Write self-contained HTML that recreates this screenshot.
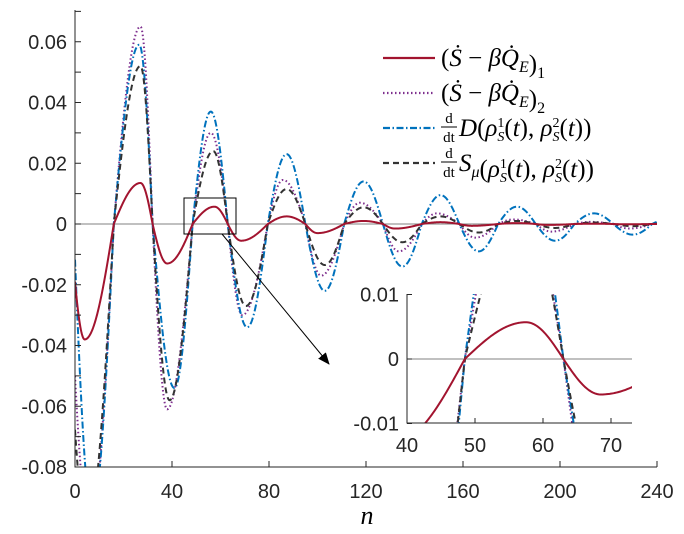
<!DOCTYPE html>
<html><head><meta charset="utf-8"><style>
html,body{margin:0;background:#fff;overflow:hidden;width:684px;height:534px;}
svg{display:block;font-family:"Liberation Sans",sans-serif;}
.s{font-family:"Liberation Serif",serif;}
</style></head><body>
<svg id="c" width="684" height="534" viewBox="0 0 684 534" xmlns="http://www.w3.org/2000/svg">
<defs>
<clipPath id="mc"><rect x="75" y="10" width="582" height="457"/></clipPath>
<clipPath id="ic"><rect x="407" y="294" width="225" height="129"/></clipPath>
<marker id="ah" markerWidth="12" markerHeight="10" refX="11" refY="5" orient="auto" markerUnits="userSpaceOnUse"><path d="M0,0 L12,5 L0,10 z" fill="#000"/></marker>
</defs>
<g id="main"></g>
<g id="ins"></g>
</svg>
<script>
const Z=[16,32,48.5,63,79.5,95,111,127,143,158.5,174.5,190,206,222,238,254];
function mk(first,amps,pk){
  const L=[first];
  for(let i=0;i<amps.length;i++){const a=Z[i],b=Z[i+1];L.push([a,b,pk(i,a,b),amps[i]]);}
  return L;
}
const mid=(i,a,b)=>(a+b)/2;
const R=mk([-2,16,4,-0.038],[.0135,-.013,.0057,-.0055,.0025,-.003,.001,-.0015,.0006,-.0006,.0003,-.0003,.0001,-.0001,0],
 (i,a,b)=>[27,38,57.5,68.5][i]!==undefined?[27,38,57.5,68.5][i]:(i%2?mid(i,a,b)-3:mid(i,a,b)));
const B=mk([-0.6,16,7,-0.095],[.059,-.054,.037,-.034,.023,-.022,.014,-.014,.0095,-.009,.0057,-.0055,.0035,-.0035,.002],
 (i,a,b)=>[26.5,41,56,71][i]||mid(i,a,b));
const P=mk([-3,16,6,-0.1],[.065,-.061,.030,-.030,.0145,-.017,.007,-.009,.0035,-.0045,.0015,-.0025,.0007,-.0015,.0005],
 (i,a,b)=>[27,38,56,69][i]||mid(i,a,b)-1.5);
const K=mk([-4.5,16,5,-0.1],[.052,-.058,.024,-.027,.0115,-.0135,.0055,-.006,.0025,-.0028,.001,-.0013,.0005,-.0007,.0003],
 (i,a,b)=>[27,39,57,70.5][i]||mid(i,a,b));
function f(L,n){for(const [a,b,p,A] of L){if(n>=a&&n<=b){const t=(n-a)/(b-a),q=(p-a)/(b-a);const tt=t<q?t/q*0.5:0.5+(t-q)/(1-q)*0.5;return A*Math.sin(Math.PI*tt);}}return 0;}
function path(L,X,Y,n0,n1){let d="";for(let n=n0;n<=n1+1e-9;n+=0.2){d+=(d?"L":"M")+X(n).toFixed(2)+","+Y(f(L,n)).toFixed(2);}return d;}
const styles=[[R,'#a2142f','2',''],[P,'#7e2f8e','2','1.5 2.5'],[B,'#0072bd','2','7 2.5 1.5 2.5'],[K,'#333','2','6 4']];
const Xm=n=>75+n*2.425, Ym=v=>224-v*3037.5;
const Xi=n=>407+(n-40)*6.8, Yi=v=>359-v*6450;
let h='';
h+='<line x1="75" y1="224" x2="657" y2="224" stroke="#808080" stroke-width="1"/>';
h+='<g clip-path="url(#mc)">';
for(const [p,c,w,da] of [styles[1],styles[2],styles[3],styles[0]]) h+=`<path d="${path(p,Xm,Ym,0,240)}" fill="none" stroke="${c}" stroke-width="${w}" ${da?`stroke-dasharray="${da}"`:''}/>`;
h+='</g>';
h+='<path d="M75,10 V467 H657" fill="none" stroke="#262626" stroke-width="1"/>';
for(let k=-8;k<=7;k++){const y=Ym(k*0.01);h+=`<line x1="75" y1="${y}" x2="81" y2="${y}" stroke="#262626"/>`;}
for(const v of [-0.08,-0.06,-0.04,-0.02,0,0.02,0.04,0.06]){const y=Ym(v);h+=`<text x="67" y="${y+7}" font-size="20" text-anchor="end" fill="#262626">${Math.abs(v)<1e-9?'0':v.toFixed(2)}</text>`;}
for(let n=0;n<=240;n+=40){const x=Xm(n);h+=`<line x1="${x}" y1="467" x2="${x}" y2="461" stroke="#262626"/><text x="${x}" y="498" font-size="20" text-anchor="middle" fill="#262626">${n}</text>`;}
h+='<text x="367" y="524" class="s" font-size="26" font-style="italic" text-anchor="middle">n</text>';
h+='<rect x="184" y="198" width="52" height="36" fill="none" stroke="#000" stroke-width="1"/>';
h+='<line x1="222" y1="234" x2="329" y2="364" stroke="#000" stroke-width="1" marker-end="url(#ah)"/>';
const sub=(s,it)=>`<tspan font-size="16" ${it?'font-style="italic"':''} dy="6">${s}</tspan><tspan dy="-6"></tspan>`;
const rho=(k)=>`<tspan font-style="italic">ρ</tspan><tspan font-size="14" dy="-9">${k}</tspan><tspan font-size="14" font-style="italic" dx="-7" dy="14">S</tspan><tspan dy="-5">(</tspan><tspan font-style="italic">t</tspan>)`;
const L=[[44,'(<tspan font-style="italic">Ṡ</tspan> − <tspan font-style="italic">βQ̇</tspan>'+sub('E',1)+')'+sub('1')],
[79,'(<tspan font-style="italic">Ṡ</tspan> − <tspan font-style="italic">βQ̇</tspan>'+sub('E',1)+')'+sub('2')],
[114,'<tspan font-style="italic">D</tspan>('+rho(1)+', '+rho(2)+')'],
[149,'<tspan font-style="italic">S</tspan>'+sub('μ',1)+'('+rho(1)+', '+rho(2)+')']];
L.forEach((r,i)=>{const[y,t]=r;const[p,c,w,da]=styles[i];
h+=`<line x1="383" y1="${y+14}" x2="435" y2="${y+14}" stroke="${c}" stroke-width="2.2" ${da?`stroke-dasharray="${da}"`:''}/>`;
let x=441;
if(i>=2){h+=`<text x="449" y="${y+9}" class="s" font-size="15" text-anchor="middle">d</text><line x1="441" y1="${y+13}" x2="457" y2="${y+13}" stroke="#000"/><text x="449" y="${y+28}" class="s" font-size="15" text-anchor="middle">dt</text>`;x=459;}
h+=`<text x="${x}" y="${y+22}" class="s" font-size="25" fill="#000">${t}</text>`;});
document.getElementById('main').innerHTML=h;
let g='<rect x="407" y="294" width="225" height="129" fill="#fff"/>';
g+='<line x1="407" y1="359" x2="632" y2="359" stroke="#808080"/>';
g+='<g clip-path="url(#ic)">';
for(const [p,c,w,da] of [styles[1],styles[2],styles[3],styles[0]]) g+=`<path d="${path(p,Xi,Yi,39,74)}" fill="none" stroke="${c}" stroke-width="${w}" ${da?`stroke-dasharray="${da}"`:''}/>`;
g+='</g>';
g+='<path d="M407,294 V423 H632" fill="none" stroke="#262626"/>';
for(const v of [-0.01,0,0.01]){const y=Yi(v);g+=`<line x1="407" y1="${y}" x2="412" y2="${y}" stroke="#262626"/><text x="399" y="${y+7}" font-size="20" text-anchor="end" fill="#262626">${v==0?'0':v.toFixed(2)}</text>`;}
for(const n of [40,50,60,70]){const x=Xi(n);g+=`<line x1="${x}" y1="423" x2="${x}" y2="418" stroke="#262626"/><text x="${x}" y="452" font-size="20" text-anchor="middle" fill="#262626">${n}</text>`;}
document.getElementById('ins').innerHTML=g;
</script>
</body></html>
